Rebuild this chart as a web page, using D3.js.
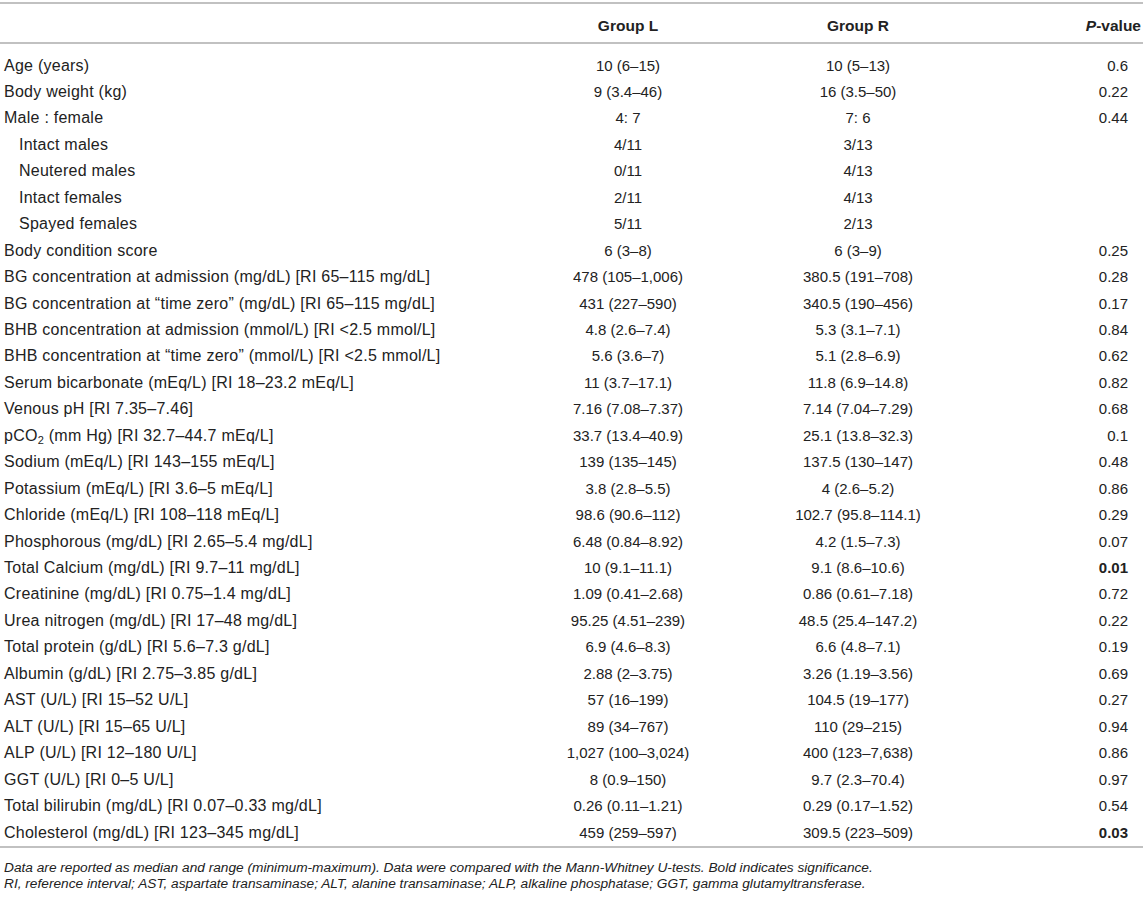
<!DOCTYPE html>
<html>
<head>
<meta charset="utf-8">
<script src="https://cdn.jsdelivr.net/npm/d3@7"></script>
<style>
  html, body { margin: 0; padding: 0; background: #fff; }
  svg text { font-family: "Liberation Sans", Arial, Helvetica, sans-serif; fill: #222; }
</style>
</head>
<body>
<div id="chart"></div>
<script>
const headers = ["", "Group L", "Group R", "P-value"];

const labels = [
  "Age (years)", "Body weight (kg)", "Male : female", "Intact males", "Neutered males",
  "Intact females", "Spayed females", "Body condition score",
  "BG concentration at admission (mg/dL) [RI 65–115 mg/dL]",
  "BG concentration at “time zero” (mg/dL) [RI 65–115 mg/dL]",
  "BHB concentration at admission (mmol/L) [RI <2.5 mmol/L]",
  "BHB concentration at “time zero” (mmol/L) [RI <2.5 mmol/L]",
  "Serum bicarbonate (mEq/L) [RI 18–23.2 mEq/L]",
  "Venous pH [RI 7.35–7.46]",
  "pCO2 (mm Hg) [RI 32.7–44.7 mEq/L]",
  "Sodium (mEq/L) [RI 143–155 mEq/L]",
  "Potassium (mEq/L) [RI 3.6–5 mEq/L]",
  "Chloride (mEq/L) [RI 108–118 mEq/L]",
  "Phosphorous (mg/dL) [RI 2.65–5.4 mg/dL]",
  "Total Calcium (mg/dL) [RI 9.7–11 mg/dL]",
  "Creatinine (mg/dL) [RI 0.75–1.4 mg/dL]",
  "Urea nitrogen (mg/dL) [RI 17–48 mg/dL]",
  "Total protein (g/dL) [RI 5.6–7.3 g/dL]",
  "Albumin (g/dL) [RI 2.75–3.85 g/dL]",
  "AST (U/L) [RI 15–52 U/L]",
  "ALT (U/L) [RI 15–65 U/L]",
  "ALP (U/L) [RI 12–180 U/L]",
  "GGT (U/L) [RI 0–5 U/L]",
  "Total bilirubin (mg/dL) [RI 0.07–0.33 mg/dL]",
  "Cholesterol (mg/dL) [RI 123–345 mg/dL]"
];

const groupL = [
  "10 (6–15)", "9 (3.4–46)", "4: 7", "4/11", "0/11", "2/11", "5/11", "6 (3–8)",
  "478 (105–1,006)", "431 (227–590)", "4.8 (2.6–7.4)", "5.6 (3.6–7)", "11 (3.7–17.1)",
  "7.16 (7.08–7.37)", "33.7 (13.4–40.9)", "139 (135–145)", "3.8 (2.8–5.5)",
  "98.6 (90.6–112)", "6.48 (0.84–8.92)", "10 (9.1–11.1)", "1.09 (0.41–2.68)",
  "95.25 (4.51–239)", "6.9 (4.6–8.3)", "2.88 (2–3.75)", "57 (16–199)", "89 (34–767)",
  "1,027 (100–3,024)", "8 (0.9–150)", "0.26 (0.11–1.21)", "459 (259–597)"
];

const groupR = [
  "10 (5–13)", "16 (3.5–50)", "7: 6", "3/13", "4/13", "4/13", "2/13", "6 (3–9)",
  "380.5 (191–708)", "340.5 (190–456)", "5.3 (3.1–7.1)", "5.1 (2.8–6.9)", "11.8 (6.9–14.8)",
  "7.14 (7.04–7.29)", "25.1 (13.8–32.3)", "137.5 (130–147)", "4 (2.6–5.2)",
  "102.7 (95.8–114.1)", "4.2 (1.5–7.3)", "9.1 (8.6–10.6)", "0.86 (0.61–7.18)",
  "48.5 (25.4–147.2)", "6.6 (4.8–7.1)", "3.26 (1.19–3.56)", "104.5 (19–177)", "110 (29–215)",
  "400 (123–7,638)", "9.7 (2.3–70.4)", "0.29 (0.17–1.52)", "309.5 (223–509)"
];

const pValues = [
  "0.6", "0.22", "0.44", "", "", "", "", "0.25", "0.28", "0.17", "0.84", "0.62", "0.82",
  "0.68", "0.1", "0.48", "0.86", "0.29", "0.07", "0.01", "0.72", "0.22", "0.19", "0.69",
  "0.27", "0.94", "0.86", "0.97", "0.54", "0.03"
];

const indented = ["Intact males", "Neutered males", "Intact females", "Spayed females"];
const significant = ["0.01", "0.03"];

const footnotes = [
  "Data are reported as median and range (minimum-maximum). Data were compared with the Mann-Whitney U-tests. Bold indicates significance.",
  "RI, reference interval; AST, aspartate transaminase; ALT, alanine transaminase; ALP, alkaline phosphatase; GGT, gamma glutamyltransferase."
];

const width = 1143, height = 901;
const svg = d3.select("#chart").append("svg")
  .attr("width", width).attr("height", height)
  .attr("viewBox", "0 0 " + width + " " + height);

const y = d3.scalePoint().domain(d3.range(labels.length)).range([65, 832]);
const colX = d3.scaleOrdinal().domain(headers).range([4, 628, 858, 1128]);

// rules
const ruleColor = "#acacac";
[3, 43, 847].forEach(function (yy) {
  svg.append("line").attr("x1", 0).attr("x2", width).attr("y1", yy).attr("y2", yy)
    .attr("stroke", ruleColor).attr("stroke-width", 1.3);
});

// header
const head = svg.append("g").attr("font-size", 15.5).attr("font-weight", "bold");
head.append("text").attr("x", colX("Group L")).attr("y", 31).attr("text-anchor", "middle").text("Group L");
head.append("text").attr("x", colX("Group R")).attr("y", 31).attr("text-anchor", "middle").text("Group R");
const ph = head.append("text").attr("x", 1141).attr("y", 31).attr("text-anchor", "end");
ph.append("tspan").attr("font-style", "italic").text("P");
ph.append("tspan").text("-value");

// rows
const rows = svg.append("g").attr("font-size", 15)
  .selectAll("g").data(labels).join("g")
  .attr("transform", (d, i) => "translate(0," + (y(i) + 5.5) + ")");

rows.append("text")
  .attr("x", d => indented.includes(d) ? 19 : colX(""))
  .attr("font-size", 16).attr("letter-spacing", 0.25)
  .each(function (d) {
    const t = d3.select(this);
    if (d.startsWith("pCO2")) {
      t.append("tspan").text("pCO");
      t.append("tspan").attr("font-size", 11).attr("dy", 3).text("2");
      t.append("tspan").attr("dy", -3).text(d.slice(4));
    } else {
      t.text(d);
    }
  });

rows.append("text").attr("x", colX("Group L")).attr("text-anchor", "middle").text((d, i) => groupL[i]);
rows.append("text").attr("x", colX("Group R")).attr("text-anchor", "middle").text((d, i) => groupR[i]);
rows.append("text").attr("x", colX("P-value")).attr("text-anchor", "end")
  .attr("font-weight", (d, i) => significant.includes(pValues[i]) ? "bold" : "normal")
  .text((d, i) => pValues[i]);

// footnotes
svg.append("g").attr("font-size", 13.7).attr("font-style", "italic")
  .selectAll("text").data(footnotes).join("text")
  .attr("x", 4).attr("y", (d, i) => 872 + i * 15.5)
  .text(d => d);
</script>
</body>
</html>
